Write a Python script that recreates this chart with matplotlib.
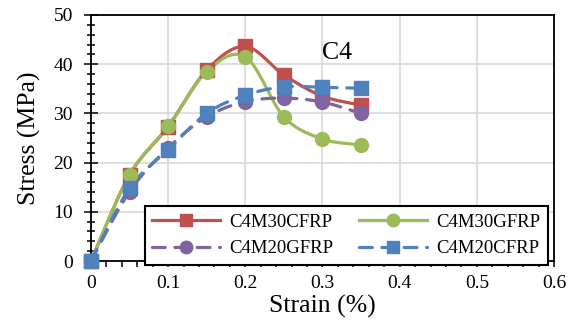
import numpy as np
import matplotlib.pyplot as plt
from matplotlib.lines import Line2D

plt.rcParams["font.family"] = "Liberation Serif"

strain = [0, 0.05, 0.1, 0.15, 0.2, 0.25, 0.3, 0.35]
c4m30cfrp = [0, 17.5, 27.3, 38.8, 43.6, 37.8, 33.5, 31.7]
c4m30gfrp = [0, 17.5, 27.4, 38.5, 41.5, 29.3, 24.8, 23.6]
c4m20gfrp = [0, 14.1, 23.0, 29.3, 32.4, 33.1, 32.3, 30.0]
c4m20cfrp = [0, 14.8, 22.6, 30.0, 33.7, 35.4, 35.3, 35.1]


def smooth(x, y, n=30):
    # cubic bezier through the points, control points from neighbours (tension 1/6)
    p = np.column_stack([x, y]).astype(float)
    p = np.vstack([p[0], p, p[-1]])
    out = []
    t = np.linspace(0, 1, n)[:, None]
    for i in range(1, len(p) - 2):
        a, b = p[i], p[i + 1]
        c1 = a + (p[i + 1] - p[i - 1]) / 6
        c2 = b - (p[i + 2] - p[i]) / 6
        seg = ((1 - t) ** 3) * a + 3 * ((1 - t) ** 2) * t * c1 + 3 * (1 - t) * t ** 2 * c2 + t ** 3 * b
        out.append(seg)
    s = np.vstack(out)
    return s[:, 0], s[:, 1]


series = [
    ("C4M30CFRP", c4m30cfrp, "#C0504D", "s", "-", 9.5),
    ("C4M30GFRP", c4m30gfrp, "#9BBB59", "o", "-", 10),
    ("C4M20GFRP", c4m20gfrp, "#8064A2", "o", (0, (4, 3)), 10),
    ("C4M20CFRP", c4m20cfrp, "#4F81BD", "s", (0, (4, 3)), 9.5),
]

fig = plt.figure(figsize=(5.81, 3.36), dpi=100)
ax = fig.add_axes([0.1566, 0.2232, 0.7969, 0.7322])

handles = {}
for name, vals, col, mk, ls, ms in series:
    sx, sy = smooth(strain, vals)
    ax.plot(sx, sy, color=col, lw=2.3, ls=ls, solid_capstyle="round", dash_capstyle="round")
    ax.plot(strain, vals, ls="none", marker=mk, ms=ms, color=col, mec=col, clip_on=False,
            zorder=3)
    handles[name] = Line2D([], [], color=col, lw=2.3, ls=ls, marker=mk, ms=ms - 1,
                           mec=col, dash_capstyle="round")

ax.set_xlim(0, 0.6)
ax.set_ylim(0, 50)
ax.set_xticks(np.arange(0, 0.61, 0.1))
ax.set_xticklabels(["0", "0.1", "0.2", "0.3", "0.4", "0.5", "0.6"])
ax.set_yticks(range(0, 51, 10))
ax.set_xticks(np.arange(0, 0.601, 0.02), minor=True)
ax.set_yticks(range(0, 51, 2), minor=True)
ax.grid(True, which="major", color="#D9D9D9", lw=1.2)
ax.set_axisbelow(True)
for sp in ax.spines.values():
    sp.set_color("black")
    sp.set_linewidth(1.3)
ax.tick_params(axis="y", which="major", direction="inout", length=10, width=1.1,
               labelsize=14, pad=8)
ax.tick_params(axis="y", which="minor", direction="inout", length=6, width=1.1)
ax.tick_params(axis="x", which="major", direction="out", length=4, width=1.1,
               labelsize=14, pad=6)
ax.tick_params(axis="x", which="minor", direction="out", length=4, width=1.1)

ax.set_xlabel("Strain (%)", fontsize=18.5, labelpad=2)
ax.set_ylabel("Stress (MPa)", fontsize=18.5, labelpad=9)
ax.text(0.3, 42.3, "C4", fontsize=18.5, va="center", ha="left")

order = ["C4M30CFRP", "C4M20GFRP", "C4M30GFRP", "C4M20CFRP"]
leg = ax.legend([handles[k] for k in order], order, ncol=2, loc="lower left",
                bbox_to_anchor=(0.1166, -0.016, 0.87, 0.252), mode="expand",
                borderaxespad=0, fontsize=13.5, handlelength=3.6, fancybox=False,
                framealpha=1, edgecolor="black", columnspacing=1.0,
                handletextpad=0.5, borderpad=0.4, labelspacing=0.5)
leg.get_frame().set_linewidth(1.5)
leg.set_zorder(5)

fig.savefig("out.png", dpi=100)
